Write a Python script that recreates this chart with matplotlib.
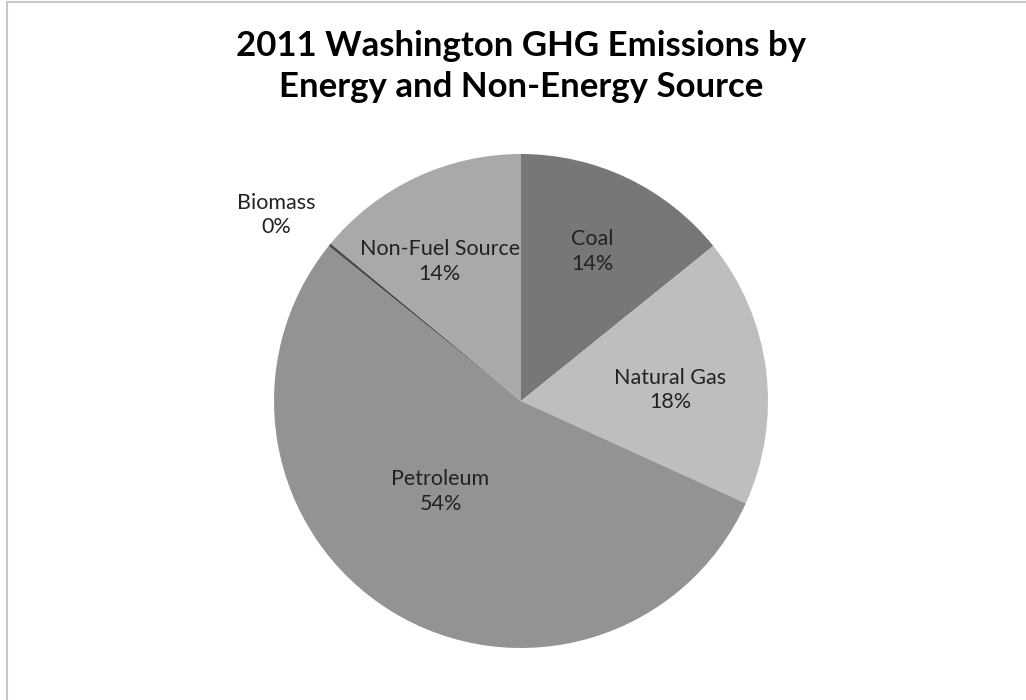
#!/usr/bin/env python3
"""2011 Washington GHG emissions pie chart (greyscale, Excel-style)."""

import matplotlib
matplotlib.use("Agg")
import matplotlib.pyplot as plt
import numpy as np
from matplotlib.patches import Rectangle

# data, clockwise from 12 o'clock
sources = ["Coal", "Natural Gas", "Petroleum", "Biomass", "Non-Fuel Source"]
shares = [14.2, 17.6, 54.0, 0.2, 14.0]

colors = ["#777777", "#bebebe", "#939393", "#4a4a4a", "#a9a9a9"]
label_radius = [0.67, 0.605, 0.49, 1.245, 0.655]
label_shift = [0, -3, -10, 2, 5]  # degrees, nudges to match Excel placement

plt.rcParams["font.family"] = ["Lato", "DejaVu Sans"]

fig = plt.figure(figsize=(10.26, 7.0), dpi=100)
fig.patches.append(Rectangle((7 / 1026, -0.01), 1.02, 1 - 1.5 / 700 + 0.01,
                             transform=fig.transFigure, fill=False,
                             edgecolor="#c8c8c8", linewidth=1.5))

cx, cy, r = 521, 401, 247
ax = fig.add_axes([(cx - r) / 1026, (700 - cy - r) / 700, 2 * r / 1026, 2 * r / 700])
wedges, _ = ax.pie(shares, colors=colors, startangle=90, counterclock=False,
                   wedgeprops=dict(linewidth=0))
ax.set_xlim(-1, 1)
ax.set_ylim(-1, 1)
ax.set_aspect("equal")

total = sum(shares)
for w, name, val, lr, sh in zip(wedges, sources, shares, label_radius, label_shift):
    mid = np.deg2rad((w.theta1 + w.theta2) / 2 + sh)
    ax.text(lr * np.cos(mid), lr * np.sin(mid),
            f"{name}\n{round(100 * val / total)}%",
            ha="center", va="center", fontsize=15.5, color="#222222",
            linespacing=1.3)

fig.text(521 / 1026, 1 - 66.5 / 700,
         "2011 Washington GHG Emissions by\nEnergy and Non-Energy Source",
         ha="center", va="center", fontsize=25, fontweight="bold",
         linespacing=1.32)

fig.savefig("out.png", dpi=100)
